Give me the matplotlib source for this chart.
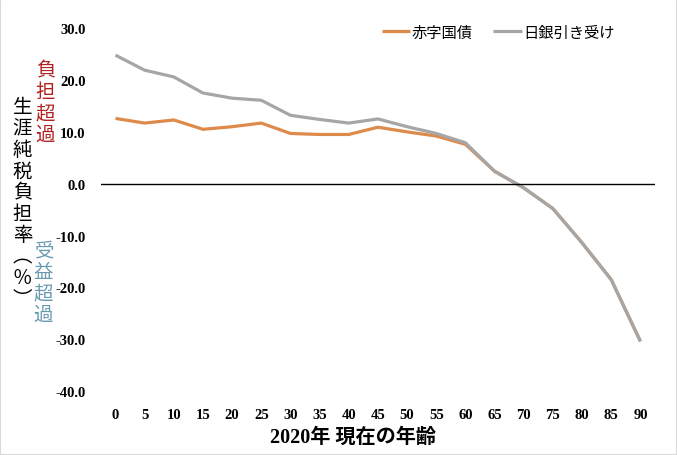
import matplotlib
matplotlib.use("Agg")
import matplotlib.pyplot as plt
import numpy as np

plt.rcParams['font.family'] = ['Noto Sans CJK JP', 'DejaVu Sans']

ages = [0, 5, 10, 15, 20, 25, 30, 35, 40, 45, 50, 55, 60, 65, 70, 75, 80, 85, 90]
deficit_bonds = [12.6, 11.7, 12.3, 10.5, 11.0, 11.7, 9.7, 9.5, 9.5, 10.9, 10.0, 9.2, 7.6,
                 2.4, -0.8, -4.8, -11.4, -18.5, -30.4]
boj_underwriting = [24.8, 21.9, 20.6, 17.5, 16.5, 16.1, 13.2, 12.4, 11.7, 12.5, 11.0, 9.7, 7.9,
                    2.4, -0.8, -4.8, -11.4, -18.5, -30.4]
series_names = ['赤字国債', '日銀引き受け']
yticks = [30, 20, 10, 0, -10, -20, -30, -40]
xlabel = '2020年 現在の年齢'
ylabel = '生涯純税負担率︵％︶'
burden_text = '負担超過'
benefit_text = '受益超過'

fig = plt.figure(figsize=(6.77, 4.56), dpi=100)
ax = fig.add_axes([0.149, 0.140, 0.8185, 0.796])

x = np.arange(len(ages))
ax.plot(x, deficit_bonds, color='#DE8A4A', lw=2.3, label=series_names[0], solid_capstyle='butt')
ax.plot(x, boj_underwriting, color='#A6A6A6', lw=2.3, label=series_names[1], solid_capstyle='butt')
ax.axhline(0, color='black', lw=1.0)

ax.set_xlim(-0.5, len(ages) - 0.5)
ax.set_ylim(-40, 30)
ax.set_yticks(yticks)
ax.set_yticklabels([f'{v:.1f}' for v in yticks], family='Liberation Serif',
                   fontweight='bold', fontsize=10.5)
ax.set_xticks(x)
ax.set_xticklabels([str(a) for a in ages], family='Liberation Serif',
                   fontweight='bold', fontsize=10.5)
ax.tick_params(axis='y', length=0, pad=11)
ax.tick_params(axis='x', length=0, pad=12)
for s in ax.spines.values():
    s.set_visible(False)

fig.text(0.522, 0.040, xlabel, ha='center', va='center', fontsize=14.5,
         fontweight='bold', family=['Liberation Serif', 'Noto Sans CJK JP'])

fig.text(0.033, 0.553, '\n'.join(ylabel), ha='center', va='center', fontsize=14,
         linespacing=1.02, color='black')
fig.text(0.067, 0.774, '\n'.join(burden_text), ha='center', va='center', fontsize=14,
         linespacing=1.02, color='#B22222')
fig.text(0.064, 0.379, '\n'.join(benefit_text), ha='center', va='center', fontsize=14,
         linespacing=1.02, color='#6A9AB0')

leg = ax.legend(loc='upper right', bbox_to_anchor=(0.952, 1.05), ncol=2, frameon=False,
                fontsize=11, handlelength=1.85, handletextpad=0.1, columnspacing=1.35)

fig.patches.append(plt.Rectangle((0, 0), 1, 1, transform=fig.transFigure,
                                 fill=False, edgecolor='#D9D9D9', lw=1.5))

fig.savefig('out.png', dpi=100)
